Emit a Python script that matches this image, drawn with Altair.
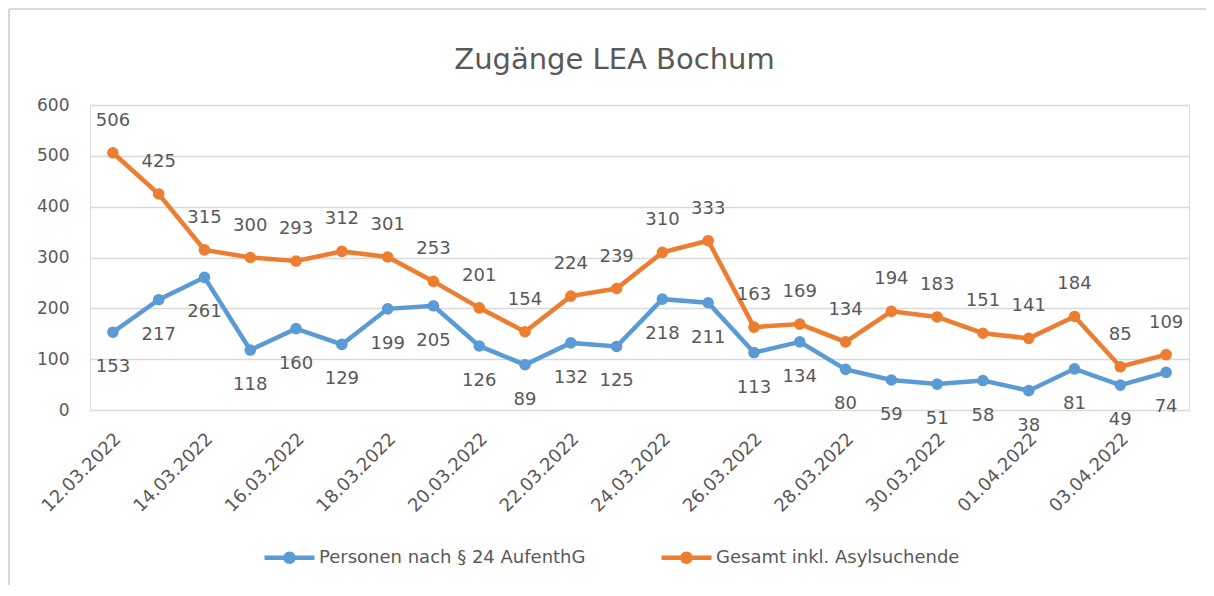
import altair as alt
import pandas as pd

dates = ["12.03.2022", "13.03.2022", "14.03.2022", "15.03.2022", "16.03.2022", "17.03.2022",
         "18.03.2022", "19.03.2022", "20.03.2022", "21.03.2022", "22.03.2022", "23.03.2022",
         "24.03.2022", "25.03.2022", "26.03.2022", "27.03.2022", "28.03.2022", "29.03.2022",
         "30.03.2022", "31.03.2022", "01.04.2022", "02.04.2022", "03.04.2022", "04.04.2022"]
persons = [153, 217, 261, 118, 160, 129, 199, 205, 126, 89, 132, 125,
           218, 211, 113, 134, 80, 59, 51, 58, 38, 81, 49, 74]
total = [506, 425, 315, 300, 293, 312, 301, 253, 201, 154, 224, 239,
         310, 333, 163, 169, 134, 194, 183, 151, 141, 184, 85, 109]
series = ["Personen nach § 24 AufenthG", "Gesamt inkl. Asylsuchende"]
colors = ["#5B9BD5", "#ED7D31"]
tick_dates = dates[::2]
y_ticks = [0, 100, 200, 300, 400, 500, 600]

df = pd.DataFrame({
    "date": dates + dates,
    "value": persons + total,
    "series": [series[0]] * len(dates) + [series[1]] * len(dates),
})

FONT = "DejaVu Sans"
GREY = "#595959"

# legend symbol: a short line with a dot in the middle (line + circle)
legend_path = ("M-2,-0.18L2,-0.18L2,0.18L-2,0.18Z"
               "M0.5,0C0.5,0.276,0.276,0.5,0,0.5C-0.276,0.5,-0.5,0.276,-0.5,0"
               "C-0.5,-0.276,-0.276,-0.5,0,-0.5C0.276,-0.5,0.5,-0.276,0.5,0Z")


def make_legend():
    return alt.Legend(orient="none", legendX=187, legendY=440,
                      direction="horizontal", title=None,
                      symbolType=legend_path, symbolSize=625,
                      symbolStrokeWidth=0, symbolOpacity=1,
                      labelFont=FONT, labelFontSize=18, labelLimit=500,
                      labelColor=GREY, labelOffset=17, columnPadding=75)


x = alt.X("date:N", sort=dates,
          scale=alt.Scale(type="point", padding=0.5),
          axis=alt.Axis(values=tick_dates, labelAngle=-45, labelAlign="right",
                        labelBaseline="middle", ticks=False, domain=False, grid=False,
                        labelPadding=26, labelOffset=5, title=None, labelFont=FONT,
                        labelFontSize=18, labelColor=GREY))
y = alt.Y("value:Q", scale=alt.Scale(domain=[0, 600], nice=False),
          axis=alt.Axis(values=y_ticks, grid=True, gridColor="#D9D9D9", gridWidth=1.5,
                        domain=False, ticks=False, labelPadding=21, title=None,
                        labelFont=FONT, labelFontSize=17, labelColor=GREY))
color_scale = alt.Scale(domain=series, range=colors)
stroke_enc = alt.Stroke("series:N", scale=color_scale, legend=make_legend())
color_enc = alt.Color("series:N", scale=color_scale, legend=make_legend())

base = alt.Chart(df)

lines = base.mark_line(strokeWidth=4.5).encode(x=x, y=y, stroke=stroke_enc, detail="series:N")
points = base.mark_circle(size=135, opacity=1).encode(x=x, y=y, color=color_enc)

labels_blue = base.transform_filter(alt.datum.series == series[0]).mark_text(
    dy=35, font=FONT, fontSize=18, color=GREY
).encode(x=x, y=y, text="value:Q")
labels_orange = base.transform_filter(alt.datum.series == series[1]).mark_text(
    dy=-32, font=FONT, fontSize=18, color=GREY
).encode(x=x, y=y, text="value:Q")

frame_top = alt.Chart(pd.DataFrame({"k": [0]})).mark_rule(color="#D9D9D9", strokeWidth=2).encode(
    x=alt.value(-81), x2=alt.value(1116), y=alt.value(-96), y2=alt.value(-96))
frame_left = alt.Chart(pd.DataFrame({"k": [0]})).mark_rule(color="#D9D9D9", strokeWidth=2).encode(
    x=alt.value(-81), x2=alt.value(-81), y=alt.value(-96), y2=alt.value(480))

chart = alt.layer(frame_top, frame_left, lines, points, labels_blue, labels_orange).properties(
    width=1099, height=305,
    title=alt.Title("Zugänge LEA Bochum", font=FONT, fontSize=29, fontWeight="normal",
                    color=GREY, anchor="middle", frame="group", dx=-25,
                    baseline="alphabetic", offset=-90),
    autosize=alt.AutoSizeParams(type="none"),
    padding={"left": 82, "top": 97, "right": 17, "bottom": 178},
).configure_view(stroke=None).configure(background="white")

chart.save("out.html", embed_options={"renderer": "svg", "actions": False})
